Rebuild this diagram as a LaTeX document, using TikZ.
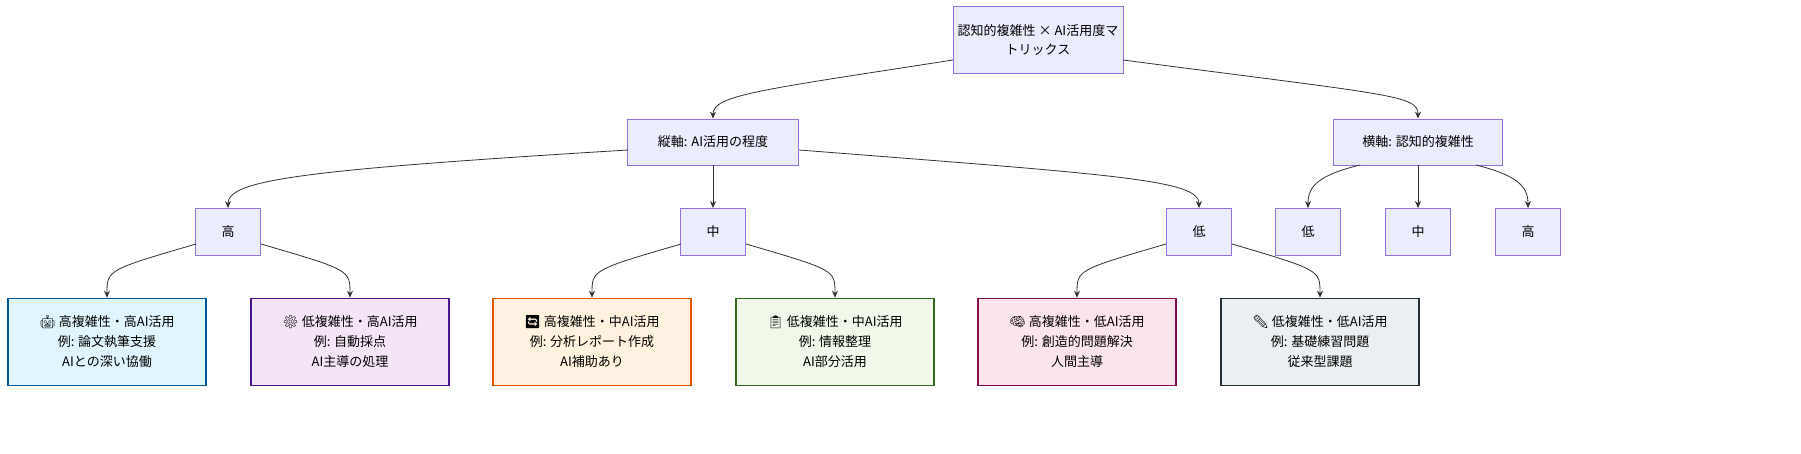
\documentclass[tikz,border=0pt]{standalone}
\usepackage{fontspec}
\setmainfont{Noto Sans CJK JP}
\newfontfamily\emj{Noto Emoji}
\usetikzlibrary{arrows.meta}
\definecolor{dfill}{HTML}{ECECFF}\definecolor{ddraw}{HTML}{9370DB}
\definecolor{d1}{HTML}{01579B}\definecolor{f1}{HTML}{E1F5FE}
\definecolor{d2}{HTML}{4A148C}\definecolor{f2}{HTML}{F3E5F5}
\definecolor{d3}{HTML}{E65100}\definecolor{f3}{HTML}{FFF3E0}
\definecolor{d4}{HTML}{33691E}\definecolor{f4}{HTML}{F1F8E9}
\definecolor{d5}{HTML}{880E4F}\definecolor{f5}{HTML}{FCE4EC}
\definecolor{d6}{HTML}{263238}\definecolor{f6}{HTML}{ECEFF1}
\begin{document}
\begin{tikzpicture}[x=1pt,y=-1pt,
  box/.style={draw=ddraw,fill=dfill,line width=0.8pt,font=\fontsize{13}{19}\selectfont,align=center,inner sep=0pt},
  cbox/.style={line width=1.6pt,font=\fontsize{13}{20}\selectfont,align=center,minimum width=198pt,minimum height=87pt,inner sep=0pt},
  arr/.style={draw=black!80,line width=0.8pt,-{Stealth[length=7pt,width=6pt]}}]
\fill[white,use as bounding box] (0,0) rectangle (1801,454);
\node[box,minimum width=170pt,minimum height=67pt] (root) at (1038,40) {認知的複雑性 × AI活用度マ\\トリックス};
\node[box,minimum width=171pt,minimum height=46pt] (v) at (713,142) {縦軸: AI活用の程度};
\node[box,minimum width=169pt,minimum height=46pt] (h) at (1418,142) {横軸: 認知的複雑性};
\node[box,minimum width=65pt,minimum height=47pt] (vh) at (228,232) {高};
\node[box,minimum width=65pt,minimum height=47pt] (vm) at (713,232) {中};
\node[box,minimum width=65pt,minimum height=47pt] (vl) at (1199,232) {低};
\node[box,minimum width=65pt,minimum height=47pt] (hl) at (1308,232) {低};
\node[box,minimum width=65pt,minimum height=47pt] (hm) at (1418,232) {中};
\node[box,minimum width=65pt,minimum height=47pt] (hh) at (1528,232) {高};
\node[cbox,draw=d1,fill=f1] (c1) at (107,342) {{\emj 🤖} 高複雑性・高AI活用\\例: 論文執筆支援\\AIとの深い協働};
\node[cbox,draw=d2,fill=f2] (c2) at (350,342) {{\emj ⚙} 低複雑性・高AI活用\\例: 自動採点\\AI主導の処理};
\node[cbox,draw=d3,fill=f3] (c3) at (592,342) {{\emj 🔄} 高複雑性・中AI活用\\例: 分析レポート作成\\AI補助あり};
\node[cbox,draw=d4,fill=f4] (c4) at (835,342) {{\emj 📋} 低複雑性・中AI活用\\例: 情報整理\\AI部分活用};
\node[cbox,draw=d5,fill=f5] (c5) at (1077,342) {{\emj 🧠} 高複雑性・低AI活用\\例: 創造的問題解決\\人間主導};
\node[cbox,draw=d6,fill=f6] (c6) at (1320,342) {{\emj ✏} 低複雑性・低AI活用\\例: 基礎練習問題\\従来型課題};
\coordinate (rl) at (953,60); \coordinate (rr) at (1123,60);
\coordinate (vlft) at (628,150); \coordinate (vrt) at (799,150);
\coordinate (hs1) at (1360,165); \coordinate (hs2) at (1476,165);
\draw[arr] (rl) .. controls (760,90) and (713,95) .. (v.north);
\draw[arr] (rr) .. controls (1390,95) and (1418,95) .. (h.north);
\draw[arr] (vlft) .. controls (300,170) and (228,180) .. (vh.north);
\draw[arr] (v.south) -- (vm.north);
\draw[arr] (vrt) .. controls (1120,175) and (1199,180) .. (vl.north);
\draw[arr] (hs1) .. controls (1320,175) and (1308,185) .. (hl.north);
\draw[arr] (h.south) -- (hm.north);
\draw[arr] (hs2) .. controls (1515,175) and (1528,185) .. (hh.north);
\coordinate (a1) at (196,244); \coordinate (b1) at (261,244);
\coordinate (a2) at (681,244); \coordinate (b2) at (746,244);
\coordinate (a3) at (1166,244); \coordinate (b3) at (1232,244);
\draw[arr] (a1) .. controls (107,270) .. (c1.north);
\draw[arr] (b1) .. controls (350,270) .. (c2.north);
\draw[arr] (a2) .. controls (592,270) .. (c3.north);
\draw[arr] (b2) .. controls (835,270) .. (c4.north);
\draw[arr] (a3) .. controls (1077,270) .. (c5.north);
\draw[arr] (b3) .. controls (1320,270) .. (c6.north);
\end{tikzpicture}
\end{document}
